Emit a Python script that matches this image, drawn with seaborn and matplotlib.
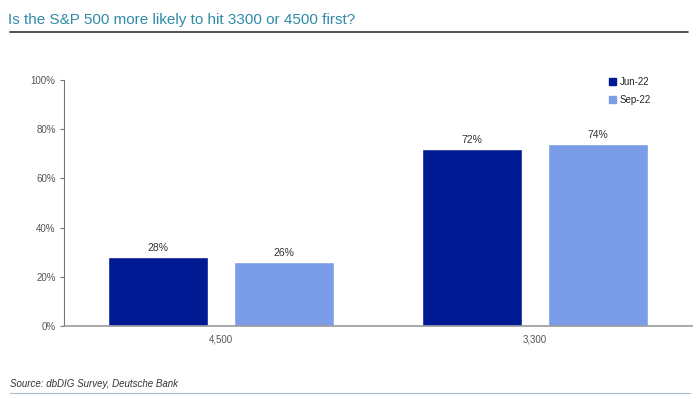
import matplotlib
matplotlib.use("Agg")
import matplotlib.pyplot as plt
import seaborn as sns
import pandas as pd
from matplotlib.lines import Line2D
from matplotlib import font_manager

categories = ["4,500", "3,300"]
series = ["Jun-22", "Sep-22"]
jun_values = [28, 72]
sep_values = [26, 74]
yticks = [0, 20, 40, 60, 80, 100]

rows = []
for c, j, s in zip(categories, jun_values, sep_values):
    rows.append({"cat": c, "series": series[0], "val": j})
    rows.append({"cat": c, "series": series[1], "val": s})
df = pd.DataFrame(rows)

sns.set_style("white")
plt.rcParams['font.family'] = ['Liberation Sans', 'DejaVu Sans']

names = {f.name for f in font_manager.fontManager.ttflist}
title_family = "Liberation Sans Narrow" if "Liberation Sans Narrow" in names else "Liberation Sans"
title_size = 13 if title_family == "Liberation Sans Narrow" else 11

fig = plt.figure(figsize=(7, 3.99), dpi=100)
ax = fig.add_axes([64/700, 1 - 326/399, 628/700, 246/399])

palette = {"Jun-22": "#001A94", "Sep-22": "#7B9DE8"}
sns.barplot(data=df, x="cat", y="val", hue="series", order=categories,
            hue_order=series, palette=palette, width=0.8, gap=0.2,
            saturation=1, ax=ax, legend=False)

for cont in ax.containers:
    ax.bar_label(cont, labels=[f"{v:.0f}%" for v in cont.datavalues],
                 padding=3, fontsize=7.5, color="#333333")

ax.set_ylim(0, 100)
ax.set_xlim(-0.5, 1.5)
ax.set_yticks(yticks)
ax.set_yticklabels([f"{t}%" for t in yticks], fontsize=7, color="#555555")
ax.tick_params(axis="x", labelsize=7, colors="#555555", length=0, pad=6)
ax.tick_params(axis="y", length=3, width=0.8, color="#777777", left=True, pad=3)
ax.set_xlabel("")
ax.set_ylabel("")
for s in ["top", "right"]:
    ax.spines[s].set_visible(False)
ax.spines["left"].set_color("#777777")
ax.spines["bottom"].set_color("#999999")
ax.spines["left"].set_linewidth(0.8)
ax.spines["bottom"].set_linewidth(1.2)

handles = [plt.Rectangle((0, 0), 1, 1, color=palette[s]) for s in series]
ax.legend(handles, series, loc="upper left", bbox_to_anchor=(600/700, 1 - 68/399),
          bbox_transform=fig.transFigure, frameon=False, fontsize=7,
          handlelength=0.7, handleheight=0.7, handletextpad=0.4, labelspacing=0.8)

fig.text(8/700, 1 - 20/399, "Is the S&P 500 more likely to hit 3300 or 4500 first?",
         fontsize=title_size, color="#2E8BA8", va="center", ha="left",
         family=[title_family, "DejaVu Sans"])
fig.add_artist(Line2D([10/700, 688/700], [1 - 32/399, 1 - 32/399],
                      color="#333333", linewidth=1.2, transform=fig.transFigure))
fig.text(10/700, 1 - 384/399, "Source: dbDIG Survey, Deutsche Bank",
         fontsize=7, style="italic", color="#333333", va="center", ha="left")
fig.add_artist(Line2D([10/700, 690/700], [1 - 393/399, 1 - 393/399],
                      color="#A9B7C6", linewidth=0.8, transform=fig.transFigure))

fig.savefig("out.png", dpi=100)
